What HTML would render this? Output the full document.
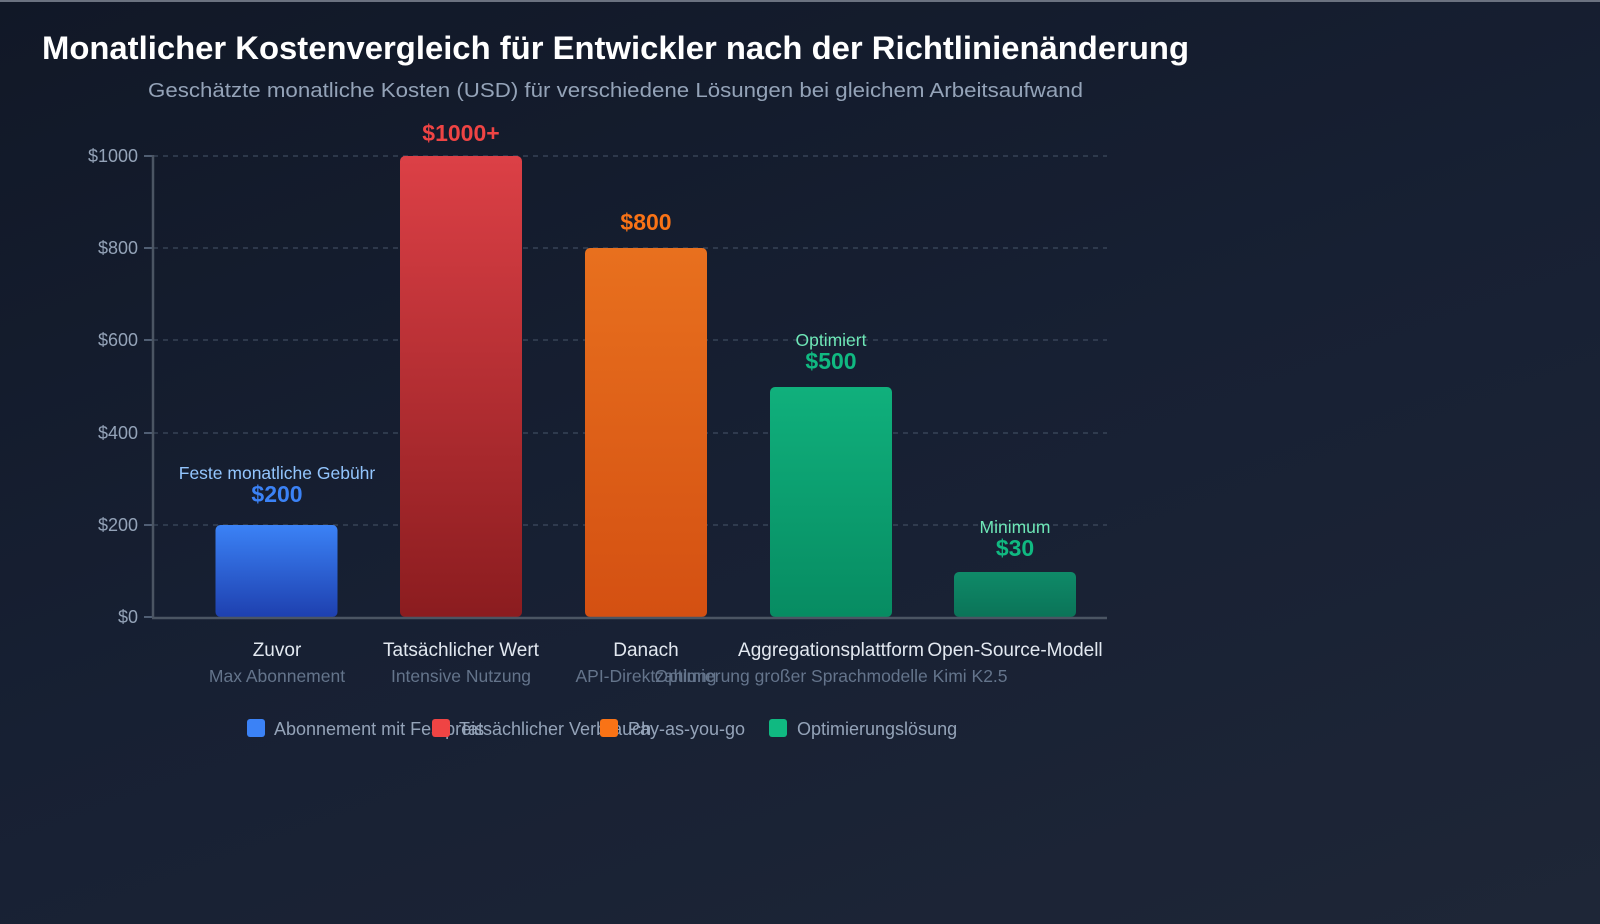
<!DOCTYPE html>
<html><head><meta charset="utf-8"><style>
html,body{margin:0;padding:0}
body{width:1600px;height:924px;overflow:hidden;background:linear-gradient(160deg,#111827 0%,#172033 50%,#1e2637 100%);font-family:"Liberation Sans",sans-serif;border-top:2px solid #6b7280;box-sizing:border-box}
</style></head><body>
<svg width="1600" height="922" xmlns="http://www.w3.org/2000/svg" style="display:block;font-family:'Liberation Sans',sans-serif">
<defs>
<linearGradient id="gb" x1="0" y1="0" x2="0" y2="1"><stop offset="0" stop-color="#3b82f6"/><stop offset="1" stop-color="#1e40af"/></linearGradient>
<linearGradient id="gr" x1="0" y1="0" x2="0" y2="1"><stop offset="0" stop-color="#dc4046"/><stop offset="1" stop-color="#8b1c1f"/></linearGradient>
<linearGradient id="go" x1="0" y1="0" x2="0" y2="1"><stop offset="0" stop-color="#e8701e"/><stop offset="1" stop-color="#d45012"/></linearGradient>
<linearGradient id="gg" x1="0" y1="0" x2="0" y2="1"><stop offset="0" stop-color="#10b07c"/><stop offset="1" stop-color="#078c62"/></linearGradient>
<linearGradient id="gd" x1="0" y1="0" x2="0" y2="1"><stop offset="0" stop-color="#0f8a68"/><stop offset="1" stop-color="#0b7458"/></linearGradient>
</defs>
<text x="42" y="57" font-size="32" font-weight="bold" fill="#fff" textLength="1147" lengthAdjust="spacingAndGlyphs">Monatlicher Kostenvergleich für Entwickler nach der Richtlinienänderung</text>
<text x="148" y="95" font-size="20" fill="#94a3b8" textLength="935" lengthAdjust="spacingAndGlyphs">Geschätzte monatliche Kosten (USD) für verschiedene Lösungen bei gleichem Arbeitsaufwand</text>
<g stroke="#475569" stroke-dasharray="5,5" stroke-width="1">
<line x1="153" y1="154" x2="1107" y2="154"/><line x1="153" y1="246" x2="1107" y2="246"/><line x1="153" y1="338" x2="1107" y2="338"/><line x1="153" y1="431" x2="1107" y2="431"/><line x1="153" y1="523" x2="1107" y2="523"/>
</g>
<g font-size="18" fill="#94a3b8" text-anchor="end">
<text x="138" y="160">$1000</text><text x="138" y="252">$800</text><text x="138" y="344">$600</text><text x="138" y="437">$400</text><text x="138" y="529">$200</text><text x="138" y="621">$0</text>
</g>
<g stroke="#64748b" stroke-width="1.5"><line x1="144" y1="154" x2="153" y2="154"/><line x1="144" y1="246" x2="153" y2="246"/><line x1="144" y1="338" x2="153" y2="338"/><line x1="144" y1="431" x2="153" y2="431"/><line x1="144" y1="523" x2="153" y2="523"/><line x1="144" y1="615" x2="153" y2="615"/></g>
<rect x="215.5" y="523" width="122" height="92" rx="5" fill="url(#gb)"/>
<rect x="400" y="154" width="122" height="461" rx="5" fill="url(#gr)"/>
<rect x="585" y="246" width="122" height="369" rx="5" fill="url(#go)"/>
<rect x="770" y="385" width="122" height="230" rx="5" fill="url(#gg)"/>
<rect x="954" y="570" width="122" height="45" rx="5" fill="url(#gd)"/>
<line x1="153" y1="153" x2="153" y2="616" stroke="#4b5563" stroke-width="2.5"/>
<line x1="152" y1="616" x2="1107" y2="616" stroke="#4b5563" stroke-width="2.5"/>
<g text-anchor="middle" font-weight="bold" font-size="23">
<text x="461" y="139" fill="#ef4444">$1000+</text>
<text x="646" y="228" fill="#f97316">$800</text>
<text x="831" y="367" fill="#10b981">$500</text>
<text x="277" y="500" fill="#3b82f6">$200</text>
<text x="1015" y="554" fill="#10b981">$30</text>
</g>
<g text-anchor="middle" font-size="17.5">
<text x="831" y="344" fill="#6ee7b7">Optimiert</text>
<text x="277" y="477" fill="#93c5fd">Feste monatliche Gebühr</text>
<text x="1015" y="531" fill="#6ee7b7">Minimum</text>
</g>
<g text-anchor="middle" font-size="19" fill="#e2e8f0">
<text x="277" y="654">Zuvor</text><text x="461" y="654">Tatsächlicher Wert</text><text x="646" y="654">Danach</text><text x="831" y="654">Aggregationsplattform</text><text x="1015" y="654">Open-Source-Modell</text>
</g>
<g text-anchor="middle" font-size="17.5" fill="#64748b">
<text x="277" y="680">Max Abonnement</text><text x="461" y="680">Intensive Nutzung</text><text x="646" y="680">API-Direktzahlung</text><text x="831" y="680">Optimierung großer Sprachmodelle Kimi K2.5</text>
</g>
<g font-size="18" fill="#94a3b8">
<rect x="247" y="717" width="18" height="18" rx="3" fill="#3b82f6"/><text x="274" y="733">Abonnement mit Festpreis</text>
<rect x="432" y="717" width="18" height="18" rx="3" fill="#ef4444"/><text x="459" y="733">Tatsächlicher Verbrauch</text>
<rect x="600" y="717" width="18" height="18" rx="3" fill="#f97316"/><text x="628" y="733">Pay-as-you-go</text>
<rect x="769" y="717" width="18" height="18" rx="3" fill="#10b981"/><text x="797" y="733">Optimierungslösung</text>
</g>
</svg>
</body></html>
